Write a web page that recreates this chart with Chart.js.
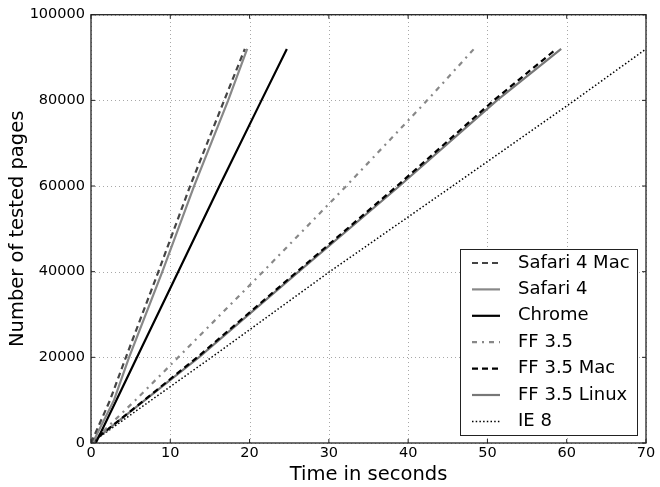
<!DOCTYPE html>
<html><head><meta charset="utf-8">
<script src="https://cdn.jsdelivr.net/npm/chart.js@4/dist/chart.umd.min.js"></script>
<style>html,body{margin:0;padding:0;background:#fff}#wrap{width:660px;height:487px}</style>
</head><body><div id="wrap"><canvas id="c" width="660" height="487"></canvas></div>
<script>
const pages = [0, 10000, 20000, 40000, 60000, 80000, 92000];
const safariMac = [0, 2.4, 4.4, 8.5, 12.5, 16.8, 19.4];
const safari4 = [0.2, 2.9, 4.8, 9.0, 13.0, 17.3, 19.7];
const chrome = [0.6, 3.2, 5.8, 11.0, 16.2, 21.5, 24.7];
const ff35 = [0, 5.6, 11.0, 21.7, 32.2, 42.4, 48.3];
const ffMac = [0, 6.7, 13.4, 26.0, 38.6, 50.8, 58.7];
const ffLinux = [0, 6.8, 13.6, 26.2, 38.9, 51.2, 59.3];
const ie8 = [0, 7.6, 15.2, 30.1, 45.6, 61.0, 70];
const seriesNames = ["Safari 4 Mac","Safari 4","Chrome","FF 3.5","FF 3.5 Mac","FF 3.5 Linux","IE 8"];
const xTicks = [0,10,20,30,40,50,60,70];
const yTicks = [0,20000,40000,60000,80000,100000];

const styles = [
  {c:'#444444', w:2.2, d:[6,4]},
  {c:'#888888', w:2.2, d:[]},
  {c:'#000000', w:2.2, d:[]},
  {c:'#888888', w:2.2, d:[5,5,2,5]},
  {c:'#000000', w:2.2, d:[6,4]},
  {c:'#777777', w:2.2, d:[]},
  {c:'#000000', w:1.5, d:[1.5,2.2]}
];
const allX = [safariMac, safari4, chrome, ff35, ffMac, ffLinux, ie8];
const datasets = allX.map((xs,i)=>({
  label: seriesNames[i],
  data: xs.map((x,j)=>({x:x, y:pages[j]})),
  borderColor: styles[i].c, borderWidth: styles[i].w, borderDash: styles[i].d,
  pointRadius:0, fill:false, tension:0
}));
const FONT = "'DejaVu Sans', sans-serif";

const framePlugin = {
  id:'frame',
  beforeDatasetsDraw(chart){
    const {ctx, chartArea:a, scales} = chart;
    ctx.save();
    ctx.strokeStyle='#a8a8a8'; ctx.lineWidth=1; ctx.setLineDash([1,3]);
    xTicks.forEach(v=>{const x=Math.round(scales.x.getPixelForValue(v))+0.5;
      ctx.beginPath();ctx.moveTo(x,a.bottom);ctx.lineTo(x,a.top);ctx.stroke();});
    yTicks.forEach(v=>{const y=Math.round(scales.y.getPixelForValue(v))+0.5;
      ctx.beginPath();ctx.moveTo(a.left,y);ctx.lineTo(a.right,y);ctx.stroke();});
    ctx.restore();
  },
  afterDatasetsDraw(chart){
    const {ctx, chartArea:a, scales} = chart;
    ctx.save();
    ctx.strokeStyle='#222'; ctx.lineWidth=1.3; ctx.setLineDash([]);
    ctx.strokeRect(a.left, a.top, a.right-a.left, a.bottom-a.top);
    ctx.lineWidth=1;
    xTicks.forEach(v=>{const x=scales.x.getPixelForValue(v);
      ctx.beginPath();ctx.moveTo(x,a.bottom);ctx.lineTo(x,a.bottom-4);ctx.moveTo(x,a.top);ctx.lineTo(x,a.top+4);ctx.stroke();});
    yTicks.forEach(v=>{const y=scales.y.getPixelForValue(v);
      ctx.beginPath();ctx.moveTo(a.left,y);ctx.lineTo(a.left+4,y);ctx.moveTo(a.right,y);ctx.lineTo(a.right-4,y);ctx.stroke();});
    // legend
    const bx=460.5, by=249.5, bw=177, bh=186;
    ctx.fillStyle='#fff'; ctx.fillRect(bx,by,bw,bh);
    ctx.strokeStyle='#222'; ctx.lineWidth=1; ctx.strokeRect(bx,by,bw,bh);
    ctx.font='18px '+FONT; ctx.textBaseline='middle'; ctx.textAlign='left';
    seriesNames.forEach((n,i)=>{
      const y=263+i*26.4;
      const s=styles[i];
      ctx.strokeStyle=s.c; ctx.lineWidth=s.w; ctx.setLineDash(s.d);
      ctx.beginPath(); ctx.moveTo(472,y); ctx.lineTo(500,y); ctx.stroke();
      ctx.setLineDash([]);
      ctx.fillStyle='#000'; ctx.fillText(n, 518, y);
    });
    ctx.restore();
  }
};

new Chart(document.getElementById('c'), {
  type:'line',
  data:{datasets},
  plugins:[framePlugin],
  options:{
    responsive:false, animation:false,
    layout:{padding:{left:0,right:14,top:14,bottom:0}},
    plugins:{legend:{display:false}, tooltip:{enabled:false}},
    scales:{
      x:{type:'linear', min:0, max:70,
        afterBuildTicks(s){s.ticks=xTicks.map(v=>({value:v}));},
        afterFit(s){s.height=44;},
        grid:{display:false, drawTicks:false, tickLength:0},
        border:{display:false},
        ticks:{color:'#000', font:{family:FONT,size:14.5}, padding:2, maxRotation:0},
        title:{display:true, text:'Time in seconds', color:'#000', font:{family:FONT,size:19.5}, padding:{top:0,bottom:0}}
      },
      y:{type:'linear', min:0, max:100000,
        afterBuildTicks(s){s.ticks=yTicks.map(v=>({value:v}));},
        afterFit(s){s.width=91;},
        grid:{display:false, drawTicks:false, tickLength:0},
        border:{display:false},
        ticks:{color:'#000', font:{family:FONT,size:14.5}, padding:6, callback:v=>String(v)},
        title:{display:true, text:'Number of tested pages', color:'#000', font:{family:FONT,size:19.5}, padding:{top:6,bottom:4}}
      }
    }
  }
});
</script></body></html>
